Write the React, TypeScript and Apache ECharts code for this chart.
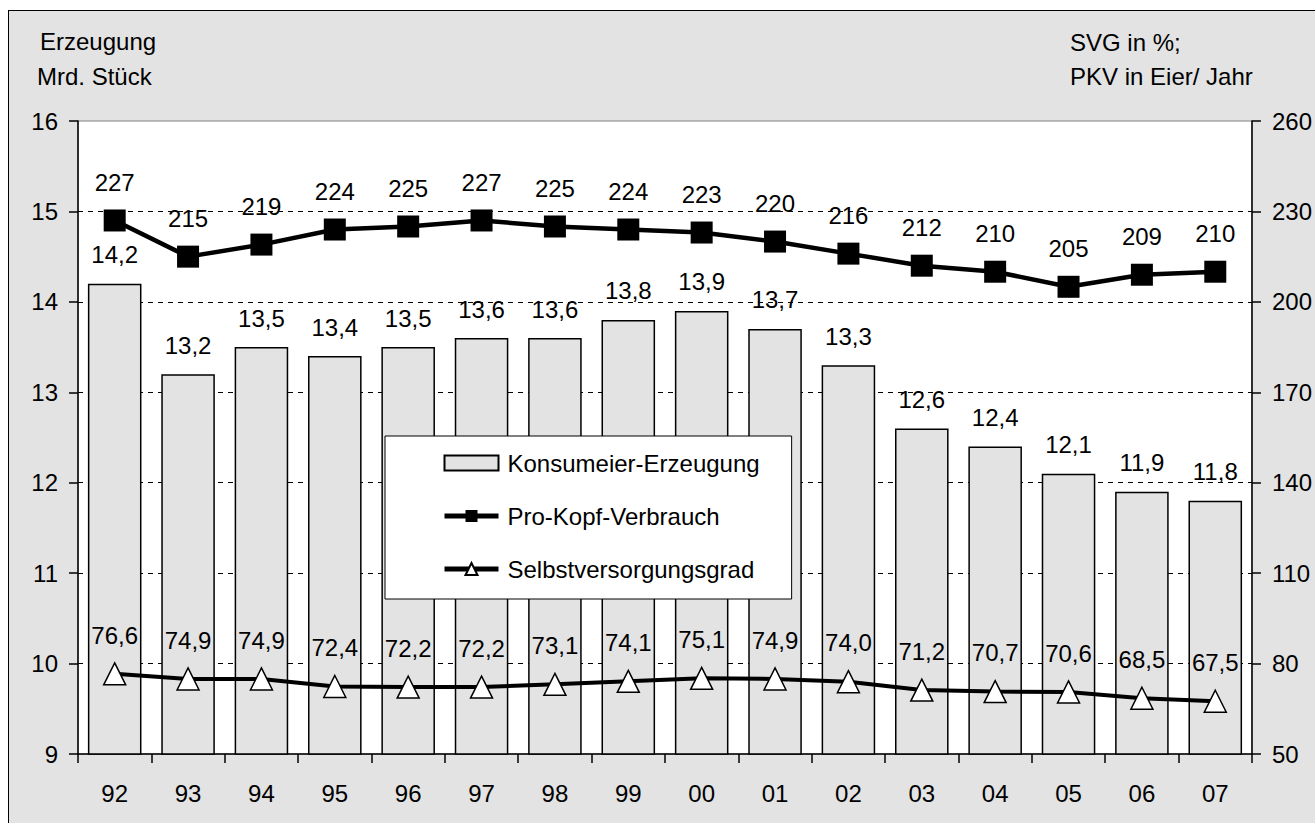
import React, { useEffect, useRef } from "react";
import * as echarts from "echarts";

const years = ["92", "93", "94", "95", "96", "97", "98", "99", "00", "01", "02", "03", "04", "05", "06", "07"];
const production = [14.2, 13.2, 13.5, 13.4, 13.5, 13.6, 13.6, 13.8, 13.9, 13.7, 13.3, 12.6, 12.4, 12.1, 11.9, 11.8];
const pkv = [227, 215, 219, 224, 225, 227, 225, 224, 223, 220, 216, 212, 210, 205, 209, 210];
const svg = [76.6, 74.9, 74.9, 72.4, 72.2, 72.2, 73.1, 74.1, 75.1, 74.9, 74.0, 71.2, 70.7, 70.6, 68.5, 67.5];
const rightTicks = [50, 80, 110, 140, 170, 200, 230, 260];

const FONT = "'Liberation Sans', Arial, sans-serif";
const comma = (v: number) => v.toFixed(1).replace(".", ",");

export default function App() {
  const ref = useRef<HTMLDivElement>(null);
  useEffect(() => {
    if (!ref.current) return;
    const chart = echarts.init(ref.current, null, { renderer: "svg" });
    const txt = { fontFamily: FONT, fontSize: 24, color: "#000" };
    chart.setOption({
      animation: false,
      textStyle: { fontFamily: FONT },
      grid: {
        left: 78,
        right: 61,
        top: 121,
        bottom: 69,
        show: true,
        backgroundColor: "#ffffff",
        borderColor: "#808080",
        borderWidth: 1,
      },
      graphic: [
        { type: "text", left: 40, top: 29, style: { text: "Erzeugung", font: `24px ${FONT}`, fill: "#000" } },
        { type: "text", left: 37, top: 64, style: { text: "Mrd. Stück", font: `24px ${FONT}`, fill: "#000" } },
        { type: "text", left: 1070, top: 30, style: { text: "SVG in %;", font: `24px ${FONT}`, fill: "#000" } },
        { type: "text", left: 1070, top: 64, style: { text: "PKV in Eier/ Jahr", font: `24px ${FONT}`, fill: "#000" } },
      ],
      legend: {
        orient: "vertical",
        left: 385,
        top: 436,
        backgroundColor: "#ffffff",
        borderColor: "#000",
        borderWidth: 1,
        padding: [15, 32, 18, 57],
        itemGap: 29,
        itemWidth: 54,
        itemHeight: 15,
        selectedMode: false,
        textStyle: { ...txt, padding: [0, 0, 0, 4] },
        data: [
          { name: "Konsumeier-Erzeugung", icon: "rect" },
          { name: "Pro-Kopf-Verbrauch", lineStyle: { width: 5 } },
          { name: "Selbstversorgungsgrad", lineStyle: { width: 5 } },
        ],
      },
      xAxis: {
        type: "category",
        data: years,
        boundaryGap: true,
        axisLine: { lineStyle: { color: "#000", width: 1.5 } },
        axisTick: { show: true, length: 9, lineStyle: { color: "#000", width: 1.5 } },
        axisLabel: { ...txt, margin: 27 },
      },
      yAxis: [
        {
          type: "value",
          min: 9,
          max: 16,
          interval: 1,
          axisLine: { show: true, lineStyle: { color: "#000", width: 1.5 } },
          axisTick: { show: true, length: 9, lineStyle: { color: "#000", width: 1.5 } },
          axisLabel: { ...txt, margin: 20 },
          splitLine: {
            show: true,
            showMinLine: false,
            showMaxLine: false,
            lineStyle: { color: "#000", type: [5, 5], width: 1 },
          },
        },
        {
          type: "value",
          min: 50,
          max: 260,
          position: "right",
          axisLine: { show: true, lineStyle: { color: "#000", width: 1.5 } },
          axisTick: { show: true, length: 9, customValues: rightTicks, lineStyle: { color: "#000", width: 1.5 } },
          axisLabel: { ...txt, margin: 20, customValues: rightTicks },
          splitLine: { show: false },
        },
      ],
      series: [
        {
          name: "Konsumeier-Erzeugung",
          type: "bar",
          data: production,
          barWidth: "73%",
          itemStyle: { color: "#e3e3e3", borderColor: "#000", borderWidth: 1.5 },
          label: {
            show: true,
            position: "top",
            distance: 17,
            ...txt,
            formatter: (p: any) => comma(p.value),
          },
          z: 2,
        },
        {
          name: "Pro-Kopf-Verbrauch",
          type: "line",
          yAxisIndex: 1,
          data: pkv,
          symbol: "rect",
          symbolSize: 22,
          lineStyle: { color: "#000", width: 4.5 },
          itemStyle: { color: "#000" },
          label: { show: true, position: "top", distance: 15, ...txt },
          z: 5,
        },
        {
          name: "Selbstversorgungsgrad",
          type: "line",
          yAxisIndex: 1,
          data: svg,
          symbol: "triangle",
          symbolSize: 22,
          lineStyle: { color: "#000", width: 4 },
          itemStyle: { color: "#fff", borderColor: "#000", borderWidth: 1.5 },
          label: {
            show: true,
            position: "top",
            distance: 15,
            ...txt,
            formatter: (p: any) => comma(p.value),
          },
          z: 5,
        },
      ],
    });
    return () => chart.dispose();
  }, []);

  return (
    <div style={{ position: "fixed", left: 0, top: 0, width: 1315, height: 823, background: "#fff", overflow: "hidden" }}>
      <div
        style={{
          position: "absolute",
          left: 8,
          top: 10,
          width: 1400,
          height: 900,
          background: "#e3e3e3",
          borderLeft: "1px solid #000",
          borderTop: "1px solid #000",
        }}
      />
      <div ref={ref} style={{ position: "absolute", left: 0, top: 0, width: 1315, height: 823 }} />
    </div>
  );
}
